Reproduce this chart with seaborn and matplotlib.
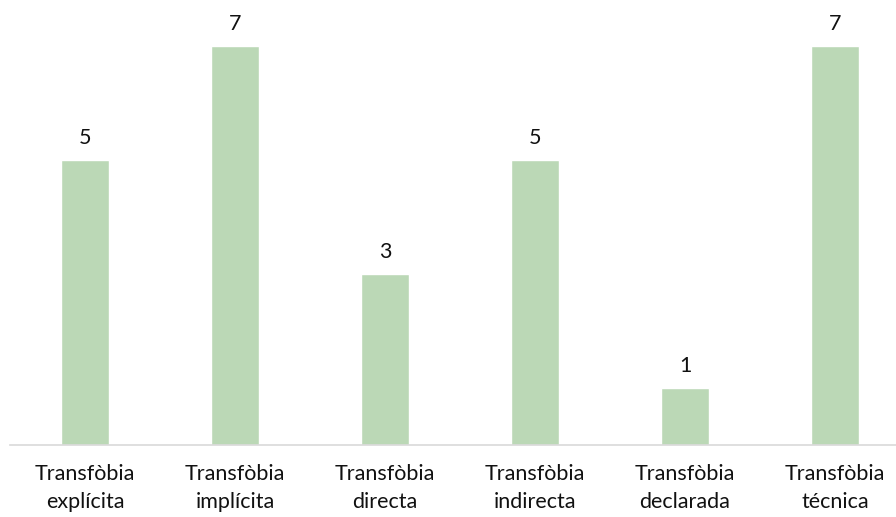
import matplotlib
matplotlib.use("Agg")
import matplotlib.pyplot as plt
import seaborn as sns
import pandas as pd

categories = ["Transfòbia\nexplícita", "Transfòbia\nimplícita", "Transfòbia\ndirecta",
              "Transfòbia\nindirecta", "Transfòbia\ndeclarada", "Transfòbia\ntécnica"]
values = [5, 7, 3, 5, 1, 7]

sns.set_theme(style="white")
plt.rcParams["font.family"] = ["Lato", "DejaVu Sans"]

df = pd.DataFrame({"cat": categories, "val": values})

fig = plt.figure(figsize=(8.96, 5.17), dpi=100)
ax = fig.add_axes([10 / 896, 1 - 445 / 517, 886 / 896, 445 / 517])
sns.barplot(data=df, x="cat", y="val", color="#BBD8B6", width=0.317,
            saturation=1, ax=ax)

ax.set_xlim(-0.5, 5.5 - 14 / 150)
ax.set_ylim(0, 445 / 57)
ax.set_xlabel("")
ax.set_ylabel("")
ax.set_yticks([])
for s in ["top", "right", "left"]:
    ax.spines[s].set_visible(False)
ax.spines["bottom"].set_color("#D9D9D9")
ax.spines["bottom"].set_linewidth(1.2)
ax.tick_params(axis="x", length=0, pad=14, labelsize=15.5, colors="#111111")
for lbl in ax.get_xticklabels():
    lbl.set_linespacing(1.5)

for c in ax.containers:
    ax.bar_label(c, labels=[str(v) for v in values], padding=9,
                 fontsize=15.5, color="#111111")

fig.savefig("out.png", dpi=100)
